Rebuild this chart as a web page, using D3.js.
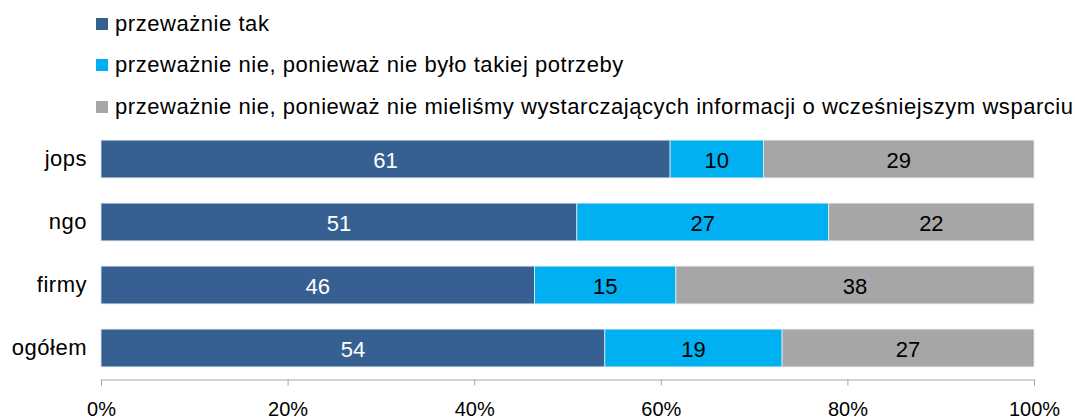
<!DOCTYPE html>
<html>
<head>
<meta charset="utf-8">
<script src="https://cdn.jsdelivr.net/npm/d3@7"></script>
<style>
  html, body { margin: 0; padding: 0; background: #fff; }
  svg { display: block; font-family: "Liberation Sans", Arial, sans-serif; }
</style>
</head>
<body>
<svg id="chart" width="1075" height="420"></svg>
<script>
// Respondent groups, top to bottom
const categories = ["jops", "ngo", "firmy", "ogółem"];

// Answer series (percent shares)
const seriesNames = [
  "przeważnie tak",
  "przeważnie nie, ponieważ nie było takiej potrzeby",
  "przeważnie nie, ponieważ nie mieliśmy wystarczających informacji o wcześniejszym wsparciu"
];
const tak = [61, 51, 46, 54];
const nieBrakPotrzeby = [10, 27, 15, 19];
const nieBrakInformacji = [29, 22, 38, 27];

const tickValues = [0, 0.2, 0.4, 0.6, 0.8, 1];
const colors = ["#376092", "#00b0f0", "#a6a6a6"];
const labelColors = ["#ffffff", "#000000", "#000000"];

const svg = d3.select("#chart");
const textSize = 22;
const tickSize = 20;

// Build rows for the stack layout
const rows = categories.map((c, i) => ({
  category: c,
  s0: tak[i],
  s1: nieBrakPotrzeby[i],
  s2: nieBrakInformacji[i]
}));
const keys = ["s0", "s1", "s2"];
const stacked = d3.stack().keys(keys).offset(d3.stackOffsetExpand)(rows);

const x = d3.scaleLinear().domain([0, 1]).range([101, 1034]);
const y = d3.scaleBand().domain(categories).range([127.5, 379.5])
  .paddingInner(0.4).paddingOuter(0.2);

// Legend
const legend = svg.append("g");
const legendY = [24, 65, 107];
seriesNames.forEach((name, i) => {
  legend.append("rect")
    .attr("x", 96).attr("y", legendY[i] - 6)
    .attr("width", 12).attr("height", 12)
    .attr("fill", colors[i]);
  legend.append("text")
    .attr("x", 115).attr("y", legendY[i])
    .attr("dy", "0.33em")
    .attr("font-size", textSize)
    .attr("letter-spacing", 0.55)
    .attr("fill", "#000")
    .text(name);
});

// Bars
const layers = svg.append("g").selectAll("g")
  .data(stacked).join("g")
  .attr("fill", (d, i) => colors[i]);

layers.selectAll("rect")
  .data(d => d).join("rect")
  .attr("x", d => x(d[0]))
  .attr("y", d => y(d.data.category))
  .attr("width", d => x(d[1]) - x(d[0]))
  .attr("height", y.bandwidth())
  .attr("stroke", "#e4ebf2")
  .attr("stroke-width", 0.8);

// Value labels
stacked.forEach((layer, li) => {
  svg.append("g").selectAll("text")
    .data(layer).join("text")
    .attr("x", d => (x(d[0]) + x(d[1])) / 2)
    .attr("y", d => y(d.data.category) + y.bandwidth() / 2 + 1)
    .attr("dy", "0.35em")
    .attr("text-anchor", "middle")
    .attr("font-size", textSize)
    .attr("fill", labelColors[li])
    .text(d => d.data[layer.key]);
});

// Category labels
svg.append("g").selectAll("text")
  .data(categories).join("text")
  .attr("x", 87)
  .attr("y", d => y(d) + y.bandwidth() / 2)
  .attr("dy", "0.33em")
  .attr("text-anchor", "end")
  .attr("font-size", textSize)
  .attr("letter-spacing", 0.5)
  .attr("fill", "#000")
  .text(d => d);

// Bottom axis
const axis = svg.append("g")
  .attr("transform", "translate(0,379.5)")
  .call(d3.axisBottom(x).tickValues(tickValues)
    .tickFormat(d3.format(".0%")).tickSizeInner(6).tickSizeOuter(6).tickPadding(16));
axis.select(".domain").attr("stroke", "#a6a6a6");
axis.selectAll(".tick line").attr("stroke", "#a6a6a6");
axis.selectAll(".tick text")
  .attr("font-size", tickSize)
  .attr("font-family", "'Liberation Sans', Arial, sans-serif")
  .attr("fill", "#000");
</script>
</body>
</html>
